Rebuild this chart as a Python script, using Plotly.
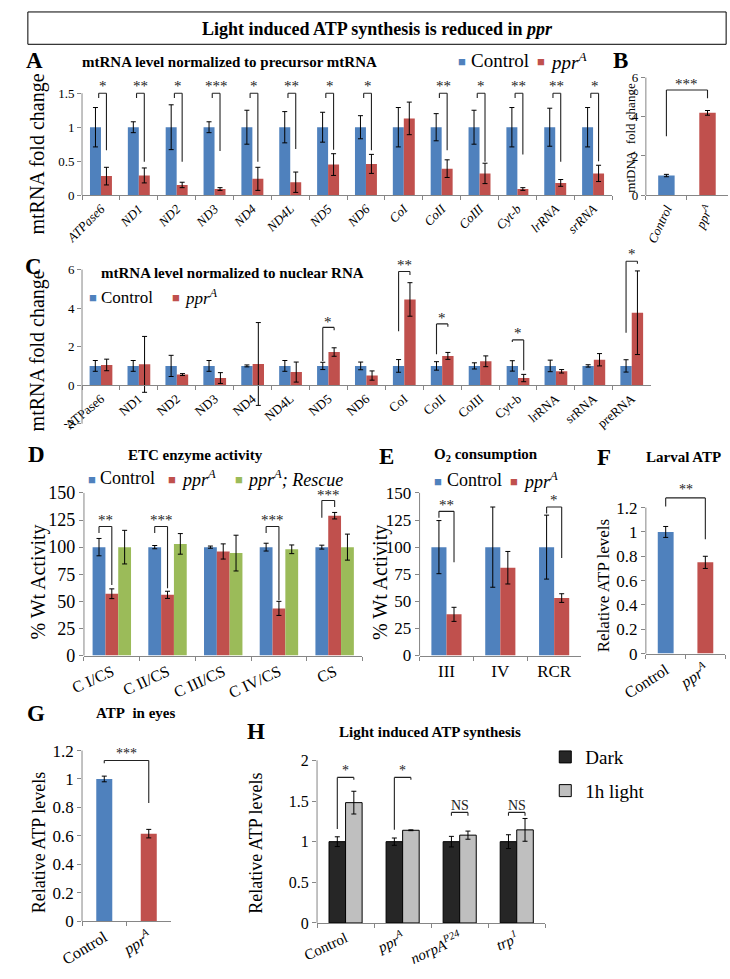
import plotly.graph_objects as go

# ---------------- data ----------------
# A: mtRNA normalized to precursor mtRNA
a_genes = ["ATPase6", "ND1", "ND2", "ND3", "ND4", "ND4L", "ND5", "ND6",
           "CoI", "CoII", "CoIII", "Cyt-b", "lrRNA", "srRNA"]
a_ctrl = [1.0, 1.0, 1.0, 1.0, 1.0, 1.0, 1.0, 1.0, 1.0, 1.0, 1.0, 1.0, 1.0, 1.0]
a_ctrl_err = [0.29, 0.08, 0.33, 0.08, 0.25, 0.23, 0.22, 0.17, 0.29, 0.20, 0.25, 0.29, 0.28, 0.29]
a_ppr = [0.28, 0.29, 0.15, 0.09, 0.24, 0.19, 0.45, 0.46, 1.13, 0.39, 0.32, 0.09, 0.18, 0.32]
a_ppr_err = [0.13, 0.11, 0.04, 0.02, 0.17, 0.15, 0.16, 0.14, 0.24, 0.13, 0.15, 0.02, 0.05, 0.12]
a_sig = ["*", "**", "*", "***", "*", "**", "*", "*", "", "**", "*", "**", "**", "*"]

# B: mtDNA fold change
b_groups = ["Control", "pprA"]
b_vals = [1.0, 4.2]
b_errs = [0.06, 0.12]
b_sig = "***"

# C: mtRNA normalized to nuclear RNA
c_genes = ["ATPase6", "ND1", "ND2", "ND3", "ND4", "ND4L", "ND5", "ND6",
           "CoI", "CoII", "CoIII", "Cyt-b", "lrRNA", "srRNA", "preRNA"]
c_ctrl = [1.0, 1.0, 1.0, 1.0, 1.0, 1.0, 1.0, 1.0, 1.0, 1.0, 1.0, 1.0, 1.0, 1.0, 1.0]
c_ctrl_err = [0.28, 0.28, 0.55, 0.28, 0.05, 0.28, 0.19, 0.20, 0.33, 0.22, 0.16, 0.27, 0.30, 0.06, 0.32]
c_ppr = [1.05, 1.08, 0.55, 0.37, 1.10, 0.68, 1.72, 0.50, 4.45, 1.52, 1.24, 0.37, 0.72, 1.32, 3.76]
c_ppr_err = [0.30, 1.45, 0.05, 0.28, 2.15, 0.52, 0.22, 0.24, 0.87, 0.18, 0.28, 0.19, 0.09, 0.32, 2.17]
c_sig = ["", "", "", "", "", "", "*", "", "**", "*", "", "*", "", "", "*"]

# D: ETC enzyme activity
d_cats = ["C I/CS", "C II/CS", "C III/CS", "C IV/CS", "CS"]
d_ctrl = [100, 100, 100, 100, 100]
d_ctrl_err = [8, 1.5, 1, 3.6, 1.8]
d_ppr = [57, 56, 96, 43.5, 129]
d_ppr_err = [4.5, 3.3, 7, 6.5, 3]
d_res = [100, 103, 94.5, 98, 100]
d_res_err = [15.5, 9.5, 16.5, 4, 12]
d_sig = ["**", "***", "", "***", "***"]

# E: O2 consumption
e_cats = ["III", "IV", "RCR"]
e_ctrl = [100, 100, 100]
e_ctrl_err = [24.5, 37, 29.5]
e_ppr = [38, 81, 53]
e_ppr_err = [6.5, 15, 4]
e_sig = ["**", "", "*"]

# F: Larval ATP
f_groups = ["Control", "pprA"]
f_vals = [1.0, 0.75]
f_errs = [0.045, 0.05]
f_sig = "**"

# G: ATP in eyes
g_groups = ["Control", "pprA"]
g_vals = [1.0, 0.615]
g_errs = [0.02, 0.03]
g_sig = "***"

# H: Light induced ATP synthesis
h_cats = ["Control", "pprA", "norpAP24", "trp1"]
h_dark = [1.0, 1.0, 1.0, 1.0]
h_dark_err = [0.06, 0.045, 0.065, 0.085]
h_light = [1.48, 1.14, 1.08, 1.145]
h_light_err = [0.14, 0.005, 0.05, 0.14]
h_sig = ["*", "*", "NS", "NS"]

# ---------------- annotation geometry (bracket heights, data units) ----------------
a_brk_right = [0.66, 0.49, 0.49, 0.65, 0.49, 0.68, 0.67, 0.66, None, 0.66, 0.49, 0.60, 0.49, 0.50]
c_brk = {6: (1.25, 3.0, 2.85, 3.3), 8: (2.8, 5.9, 5.72, 6.22), 9: (1.6, 3.18, 3.03, 3.5),
         11: (2.24, 2.35, 0.77, 2.7), 14: (2.72, 6.43, 6.3, 6.8)}
d_brk = {0: (113, 119, 65, 125), 1: (113, 119, 62, 125), 3: (113, 119, 51, 125), 4: (127, 143, 137, 148)}
e_brk = {0: (127, 133, 86, 139), 2: (131, 137, 90, 143.5)}
h_brk = {0: (1.157, 1.79, 1.76, 1.87), 1: (1.145, 1.79, 1.76, 1.87),
         2: (1.32, 1.36, 1.32, 1.44), 3: (1.32, 1.36, 1.32, 1.44)}

# ---------------- style ----------------
W, H = 730, 979
SERIF = "Liberation Serif, Times New Roman, serif"
BLUE, RED, GREEN = "#4F81BD", "#C0504D", "#9BBB59"
DARK, LIGHT = "#262626", "#BFBFBF"
AXC = "#868686"
BRC = "#222222"

fig = go.Figure()
shapes = []
annotations = []
layout = {}
ranges = {}


def fx(p):
    return p / W


def fy(p):
    return 1 - p / H


def ref(n):
    return ("x" if n == 1 else f"x{n}"), ("y" if n == 1 else f"y{n}")


def setup_axes(n, xpx, p0, v0, p1, v1, rng, yticks, ytfont, cats, ticktext,
               xtfont, xangle, line_lo, line_hi, free_zero=False):
    s = (p0 - p1) / (v1 - v0)
    bottom = p0 + (v0 - rng[0]) * s
    top = p0 - (rng[1] - v0) * s
    ranges[n] = rng
    xr, yr = ref(n)
    xa = dict(domain=[fx(xpx[0]), fx(xpx[1])], anchor=yr, type="category",
              categoryorder="array", categoryarray=cats,
              tickvals=cats, ticktext=ticktext, tickangle=xangle,
              tickfont=dict(family=SERIF, size=xtfont, color="black"),
              showline=True, linecolor=AXC, linewidth=1,
              ticks="outside", tickson="boundaries", ticklen=4, tickcolor=AXC,
              showgrid=False, zeroline=False, fixedrange=True)
    if free_zero:
        xa["anchor"] = "free"
        xa["position"] = fy(p0 + (v0 - 0) * s)
    ya = dict(domain=[fy(bottom), fy(top)], anchor=xr, range=rng,
              tickvals=yticks, ticktext=[("%g" % t) for t in yticks],
              tickfont=dict(family=SERIF, size=ytfont, color="black"),
              showline=False, ticks="outside", ticklen=4, tickcolor=AXC,
              showgrid=False, zeroline=False, fixedrange=True)
    layout["xaxis" if n == 1 else f"xaxis{n}"] = xa
    layout["yaxis" if n == 1 else f"yaxis{n}"] = ya
    # vertical axis line from lowest to highest tick
    ylo = p0 + (v0 - line_lo) * s
    yhi = p0 + (v0 - line_hi) * s
    shapes.append(dict(type="line", xref="paper", yref="paper",
                       x0=fx(xpx[0]), x1=fx(xpx[0]), y0=fy(ylo), y1=fy(yhi),
                       line=dict(color=AXC, width=1)))


def add_bars(n, cats, vals, errs, color, offset, width, name=None, legend=None,
             outline=None, group=None):
    xr, yr = ref(n)
    fig.add_trace(go.Bar(
        x=cats, y=vals, xaxis=xr, yaxis=yr, name=name or "",
        offset=offset, width=width,
        marker=dict(color=color, line=dict(color=outline or "rgba(0,0,0,0)",
                                           width=1 if outline else 0)),
        error_y=dict(type="data", array=errs, visible=True, color="black",
                     thickness=1, width=2.5),
        showlegend=legend is not None, legend=legend or "legend",
        legendgroup=group, hoverinfo="skip"))


def bracket(n, xl, xr_, yl, yt, yrb, label, ty, size=15):
    xr, yr = ref(n)
    for (a0, b0, a1, b1) in [(xl, yl, xl, yt), (xl, yt, xr_, yt), (xr_, yt, xr_, yrb)]:
        shapes.append(dict(type="line", xref=xr, yref=yr, x0=a0, y0=b0, x1=a1, y1=b1,
                           line=dict(color=BRC, width=1.1)))
    r0, r1 = ranges[n]
    annotations.append(dict(xref=xr, yref=f"{yr} domain", x=(xl + xr_) / 2,
                            y=(ty - r0) / (r1 - r0), text=label,
                            showarrow=False, yanchor="middle",
                            font=dict(family=SERIF, size=size, color=BRC)))


def text(xp, yp, t, size, bold=False, angle=0, anchor="center", color="black"):
    annotations.append(dict(xref="paper", yref="paper", x=fx(xp), y=fy(yp),
                            text=(f"<b>{t}</b>" if bold else t), showarrow=False,
                            textangle=angle, xanchor=anchor, yanchor="middle",
                            font=dict(family=SERIF, size=size, color=color)))


def key(items, yp, size):
    # items: (square x, colour, label)
    for xp, col, lab in items:
        text(xp, yp + 1, "■", 13, color=col)
        text(xp + 7, yp, lab, size, anchor="left")


PPR = "<i>ppr<sup>A</sup></i>"

# ---------------- A ----------------
wA = 0.29
setup_axes(1, (60, 608), 189, 0, 85, 1.5, [0, 1.55], [0, 0.5, 1, 1.5], 13,
           a_genes, [f"<i>{g}</i>" for g in a_genes], 13, -45, 0, 1.5)
add_bars(1, a_genes, a_ctrl, a_ctrl_err, BLUE, -wA, wA)
add_bars(1, a_genes, a_ppr, a_ppr_err, RED, 0, wA)
for i, sg in enumerate(a_sig):
    if sg:
        bracket(1, i - 0.06, i + wA / 2, 1.43, 1.5, a_brk_right[i], sg, 1.61)

# ---------------- B ----------------
setup_axes(2, (643, 728), 189, 0, 69, 6, [0, 6], [0, 2, 4, 6], 13,
           b_groups, ["<i>Control</i>", PPR], 13, -65, 0, 6)
add_bars(2, b_groups, b_vals, b_errs, [BLUE, RED], -0.2, 0.4)
bracket(2, 0, 1, 3.0, 5.37, 4.95, b_sig, 5.65)

# ---------------- C ----------------
wC = 0.3
setup_axes(3, (60, 648), 383, 0, 265, 6, [-2, 6.5], [-2, 0, 2, 4, 6], 13,
           c_genes, c_genes, 13, -40, -2, 6, free_zero=True)
add_bars(3, c_genes, c_ctrl, c_ctrl_err, BLUE, -wC, wC)
add_bars(3, c_genes, c_ppr, c_ppr_err, RED, 0, wC)
for i, (yl, yt, yrb, ty) in c_brk.items():
    bracket(3, i - wC / 2, i + wC / 2, yl, yt, yrb, c_sig[i], ty)

# ---------------- D ----------------
wD = 0.23
setup_axes(4, (62, 350), 659, 0, 493, 150, [0, 150], [0, 25, 50, 75, 100, 125, 150], 18,
           d_cats, d_cats, 16, -25, 0, 150)
add_bars(4, d_cats, d_ctrl, d_ctrl_err, BLUE, -1.5 * wD, wD)
add_bars(4, d_cats, d_ppr, d_ppr_err, RED, -0.5 * wD, wD)
add_bars(4, d_cats, d_res, d_res_err, GREEN, 0.5 * wD, wD)
for i, (yl, yt, yrb, ty) in d_brk.items():
    bracket(4, i - wD, i, yl, yt, yrb, d_sig[i], ty)

# ---------------- E ----------------
wE = 0.28
setup_axes(5, (409, 576), 659, 0, 493, 150, [0, 150], [0, 25, 50, 75, 100, 125, 150], 17,
           e_cats, e_cats, 17, 0, 0, 150)
add_bars(5, e_cats, e_ctrl, e_ctrl_err, BLUE, -wE, wE)
add_bars(5, e_cats, e_ppr, e_ppr_err, RED, 0, wE)
for i, (yl, yt, yrb, ty) in e_brk.items():
    bracket(5, i - wE / 2, i + wE / 2, yl, yt, yrb, e_sig[i], ty)

# ---------------- F ----------------
setup_axes(6, (643, 725), 657, 0, 508, 1.2, [0, 1.3], [0, 0.2, 0.4, 0.6, 0.8, 1, 1.2], 17,
           f_groups, ["Control", PPR], 16, -33, 0, 1.2)
add_bars(6, f_groups, f_vals, f_errs, [BLUE, RED], -0.2, 0.4)
bracket(6, 0, 1, 1.21, 1.28, 0.94, f_sig, 1.35, 14)

# ---------------- G ----------------
setup_axes(7, (60, 152), 930, 0, 756, 1.2, [0, 1.2], [0, 0.2, 0.4, 0.6, 0.8, 1, 1.2], 17,
           g_groups, ["Control", PPR], 16, -31, 0, 1.2)
add_bars(7, g_groups, g_vals, g_errs, [BLUE, RED], -0.18, 0.36)
bracket(7, 0, 1, 1.11, 1.13, 0.83, g_sig, 1.18, 14)

# ---------------- H ----------------
wH = 0.29
setup_axes(8, (303, 539), 932, 0, 766, 2, [0, 2], [0, 0.5, 1, 1.5, 2], 16,
           h_cats, ["Control", PPR, "<i>norpA<sup>P24</sup></i>", "<i>trp<sup>1</sup></i>"],
           15, -25, 0, 2)
add_bars(8, h_cats, h_dark, h_dark_err, DARK, -wH, wH, "Dark", "legend", outline="black", group="d")
add_bars(8, h_cats, h_light, h_light_err, LIGHT, 0, wH, "1h light", "legend", outline="black", group="l")
for i, (yl, yt, yrb, ty) in h_brk.items():
    bracket(8, i - wH / 2, i + wH / 2, yl, yt, yrb, h_sig[i], ty, 14)

# ---------------- texts ----------------
shapes.append(dict(type="rect", xref="paper", yref="paper", x0=fx(4), x1=fx(726),
                   y0=fy(35), y1=fy(2), line=dict(color="black", width=1)))
text(365, 19, "Light induced ATP synthesis is reduced in <i>ppr</i>", 18, bold=True)

for lab, xp, yp in [("A", 11, 52), ("B", 617, 52), ("C", 10, 262), ("D", 13, 454),
                    ("E", 375, 456), ("F", 600, 457), ("G", 12, 718), ("H", 240, 737)]:
    text(xp, yp, lab, 23, bold=True)

text(212, 53, "mtRNA level normalized to precursor mtRNA", 15, bold=True)
text(216, 268, "mtRNA level normalized to nuclear RNA", 15, bold=True)
text(177, 454, "ETC enzyme activity", 15, bold=True)
text(478, 454, "O<sub>2</sub> consumption", 15, bold=True)
text(682, 456, "Larval ATP", 15, bold=True)
text(115, 718, "ATP\u00a0 in eyes", 15, bold=True)
text(420, 737, "Light induced ATP synthesis", 15, bold=True)

text(14, 147, "mtRNA fold change", 20, angle=-90)
text(627, 130, "mtDNA\u00a0 fold change", 13, angle=-90)
text(14, 348, "mtRNA fold change", 20, angle=-90)
text(15, 584, "% Wt Activity", 20, angle=-90)
text(368, 584, "% Wt Activity", 20, angle=-90)
text(600, 588, "Relative ATP levels", 17, angle=-90)
text(15, 850, "Relative ATP levels", 18, angle=-90)
text(240, 851, "Relative ATP levels", 18, angle=-90)

# colour keys
key([(453, BLUE, "Control"), (535, RED, PPR)], 52, 19)
key([(71, BLUE, "Control"), (157, RED, PPR)], 293, 17)
key([(70, BLUE, "Control"), (153, RED, PPR), (222, GREEN, "<i>ppr<sup>A</sup>; Rescue</i>")], 478, 18)
key([(428, BLUE, "Control"), (507, RED, PPR)], 480, 18)

layout["legend"] = dict(x=fx(539), y=fy(780), orientation="v", xanchor="left", yanchor="middle",
                        bgcolor="rgba(0,0,0,0)", itemwidth=30, tracegroupgap=6,
                        font=dict(family=SERIF, size=19, color="black"),
                        itemclick=False, itemdoubleclick=False)

fig.update_layout(width=W, height=H, margin=dict(l=0, r=0, t=0, b=0, pad=0),
                  paper_bgcolor="white", plot_bgcolor="white",
                  barmode="overlay", shapes=shapes, annotations=annotations,
                  font=dict(family=SERIF, color="black"), **layout)

fig.write_html("out.html", config={"displayModeBar": False},
               post_script="document.body.style.margin='0';")
